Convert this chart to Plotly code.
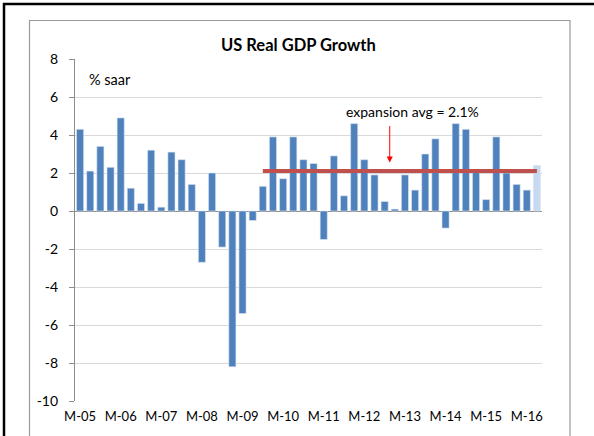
import plotly.graph_objects as go

# ---- data ----
years = ["05", "06", "07", "08", "09", "10", "11", "12", "13", "14", "15", "16"]
months = ["Mar", "Jun", "Sep", "Dec"]
quarters = [f"{m}-{y}" for y in years for m in months][:46]  # Mar-05 .. Jun-16

gdp_growth = [4.3, 2.1, 3.4, 2.3, 4.9, 1.2, 0.4, 3.2, 0.2, 3.1, 2.7, 1.4,
              -2.7, 2.0, -1.9, -8.2, -5.4, -0.5,
              1.3, 3.9, 1.7, 3.9, 2.7, 2.5, -1.5, 2.9, 0.8, 4.6, 2.7, 1.9,
              0.5, 0.1, 1.9, 1.1, 3.0, 3.8, -0.9, 4.6, 4.3, 2.1, 0.6, 3.9,
              2.0, 1.4, 1.1, 2.4]
estimate_flags = [False] * 45 + [True]

expansion_start = "Sep-09"
expansion_avg = 2.1

tick_labels = ["M-" + y for y in years]
y_ticks = [-10, -8, -6, -4, -2, 0, 2, 4, 6, 8]
y_tick_labels = ["-10", "-8", "-6", "-4", "-2", "0", "2", "4", "6", "8"]

# ---- derived ----
x_idx = list(range(len(quarters)))
bar_colors = ["#C6D9F1" if e else "#4F81BD" for e in estimate_flags]
start_i = quarters.index(expansion_start)
line_x = x_idx[start_i:]
line_y = [expansion_avg] * len(line_x)

FONT = "Lato, Carlito, Calibri, sans-serif"

fig = go.Figure()
fig.add_trace(go.Bar(
    x=x_idx, y=gdp_growth, marker=dict(color=bar_colors, line=dict(color="#DCE6F2", width=0.6)),
    width=0.7, hovertext=quarters, showlegend=False))
fig.add_trace(go.Scatter(
    x=line_x, y=line_y, mode="lines", line=dict(color="#C0504D", width=4), showlegend=False))

# layout geometry (pixels)
W, H = 594, 436
L, R, T, B = 75, 52, 59, 35
pw, ph = W - L - R, H - T - B

def px(xp):
    return (xp - L) / pw

def py(yp):
    return (H - B - yp) / ph

shapes = [
    # outer black frame (top and left)
    dict(type="line", xref="paper", yref="paper", x0=px(3), x1=px(600), y0=py(4), y1=py(4),
         line=dict(color="black", width=2.5)),
    dict(type="line", xref="paper", yref="paper", x0=px(4), x1=px(4), y0=py(3), y1=py(440),
         line=dict(color="black", width=2.5)),
    # grey chart-area frame
    dict(type="rect", xref="paper", yref="paper", x0=px(29.5), x1=px(570), y0=py(20.5), y1=py(445),
         line=dict(color="#9A9A9A", width=1.2), layer="below"),
]

annotations = [
    dict(text="<b>US Real GDP Growth</b>", xref="paper", yref="paper", x=px(298), y=py(45),
         showarrow=False, font=dict(family=FONT, size=16.5, color="black"), xanchor="center", yanchor="middle"),
    dict(text="% saar", xref="paper", yref="paper", x=px(87), y=py(79),
         showarrow=False, font=dict(family=FONT, size=14.5, color="black"), xanchor="left", yanchor="middle"),
    dict(text="expansion avg = 2.1%", x=32.7, y=5.23, xref="x", yref="y",
         showarrow=False, font=dict(family=FONT, size=14, color="black"), xanchor="center", yanchor="middle"),
    dict(text="", x=30.5, y=2.55, xref="x", yref="y", ax=0, ay=-38, showarrow=True,
         arrowhead=2, arrowsize=1.2, arrowwidth=1, arrowcolor="#FF0000"),
]

fig.update_layout(
    width=W, height=H,
    margin=dict(l=L, r=R, t=T, b=B),
    paper_bgcolor="white", plot_bgcolor="white",
    font=dict(family=FONT, size=12, color="black"),
    bargap=0.3,
    shapes=shapes, annotations=annotations,
    xaxis=dict(range=[-0.5, len(quarters) - 0.5], tickmode="array",
               tickvals=[quarters.index("Mar-" + y) for y in years], ticktext=tick_labels,
               showgrid=False, zeroline=False, showline=False, ticks="",
               tickfont=dict(family=FONT, size=13), ticklabelstandoff=6),
    yaxis=dict(range=[-10, 8], tickmode="array", tickvals=y_ticks, ticktext=y_tick_labels,
               showgrid=True, gridcolor="#D9D9D9", gridwidth=1,
               zeroline=True, zerolinecolor="#8C8C8C", zerolinewidth=1.2,
               showline=True, linecolor="#8C8C8C", linewidth=1.2,
               ticks="outside", ticklen=5, tickcolor="#8C8C8C",
               tickfont=dict(family=FONT, size=14), ticklabelstandoff=8),
)

fig.write_html("out.html", config={"displayModeBar": False},
               post_script="document.body.style.margin='0';document.body.style.padding='0';")
